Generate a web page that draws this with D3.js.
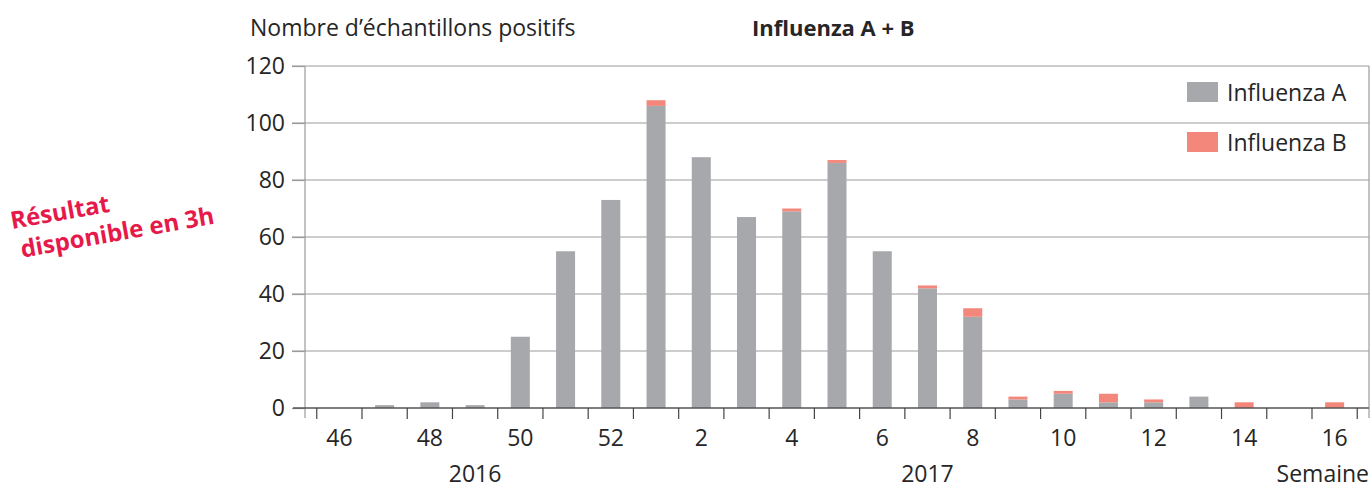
<!DOCTYPE html>
<html>
<head>
<meta charset="utf-8">
<script src="https://cdn.jsdelivr.net/npm/d3@7"></script>
<style>
  body { margin: 0; background: #fff; }
  text { font-family: "Open Sans", "Noto Sans", sans-serif; fill: #262626; }
</style>
</head>
<body>
<div id="chart"></div>
<script>
// semaines (2016: 46-52, 2017: 1-16)
const weeks = ["46", "47", "48", "49", "50", "51", "52", "1", "2", "3", "4", "5",
  "6", "7", "8", "9", "10", "11", "12", "13", "14", "15", "16"];
const influenzaA = [0, 1, 2, 1, 25, 55, 73, 106, 88, 67, 69, 86, 55, 42, 32, 3, 5, 2, 2, 4, 0, 0, 0];
const influenzaB = [0, 0, 0, 0, 0, 0, 0, 2, 0, 0, 1, 1, 0, 1, 3, 1, 1, 3, 1, 0, 2, 0, 2];
const yTicks = [0, 20, 40, 60, 80, 100, 120];
const weekLabels = ["46", "48", "50", "52", "2", "4", "6", "8", "10", "12", "14", "16"];
const yearLabels = ["2016", "2017"];
const yearWeeks = ["49", "7"];
const seriesNames = ["Influenza A", "Influenza B"];

const width = 1371, height = 489;
const margin = { top: 66, right: 2, bottom: 81, left: 305 };
const innerW = width - margin.left - margin.right;
const innerH = height - margin.top - margin.bottom;
const colors = ["#a7a8ab", "#f4877b"];
const gridColor = "#9b9b9b";

const data = weeks.map((w, i) => ({ week: w, A: influenzaA[i], B: influenzaB[i] }));
const stacked = d3.stack().keys(["A", "B"])(data);

const svg = d3.select("#chart").append("svg")
  .attr("width", width)
  .attr("height", height);

const g = svg.append("g")
  .attr("transform", `translate(${margin.left}, ${margin.top})`);

const x = d3.scaleBand()
  .domain(weeks)
  .range([0, innerW])
  .paddingInner(0)
  .paddingOuter(0.26);

const y = d3.scaleLinear()
  .domain([0, 120])
  .range([innerH, 0]);

// grille horizontale
g.append("g")
  .selectAll("line")
  .data(yTicks.filter(d => d > 0))
  .join("line")
  .attr("x1", -13)
  .attr("x2", innerW)
  .attr("y1", d => y(d))
  .attr("y2", d => y(d))
  .attr("stroke", gridColor)
  .attr("stroke-width", 1.2);

// axe Y
const yAxis = d3.axisLeft(y)
  .tickValues(yTicks)
  .tickSize(13)
  .tickPadding(7);
const gy = g.append("g").call(yAxis);
gy.select(".domain").remove();
gy.selectAll(".tick line").attr("stroke", gridColor).attr("stroke-width", 1.2);
gy.selectAll(".tick text")
  .attr("font-size", 23)
  .attr("font-family", "Open Sans")
  .attr("fill", "#262626");

// barres empilées
g.append("g")
  .selectAll("g")
  .data(stacked)
  .join("g")
  .attr("fill", (d, i) => colors[i])
  .selectAll("rect")
  .data(d => d)
  .join("rect")
  .attr("x", d => x(d.data.week) + x.bandwidth() * 0.29)
  .attr("width", x.bandwidth() * 0.42)
  .attr("y", d => y(d[1]))
  .attr("height", d => y(d[0]) - y(d[1]));

// bords verticaux
[0, innerW].forEach(px => {
  g.append("line")
    .attr("x1", px).attr("x2", px)
    .attr("y1", 0).attr("y2", innerH + 10)
    .attr("stroke", gridColor)
    .attr("stroke-width", 1.2);
});

// axe X: ligne de base + graduations entre les semaines
g.append("line")
  .attr("x1", -12).attr("x2", innerW)
  .attr("y1", innerH).attr("y2", innerH)
  .attr("stroke", "#555")
  .attr("stroke-width", 1.4);

const boundaries = weeks.map(w => x(w)).concat([x(weeks[weeks.length - 1]) + x.step()]);
g.append("g")
  .selectAll("line")
  .data(boundaries)
  .join("line")
  .attr("x1", d => d).attr("x2", d => d)
  .attr("y1", innerH).attr("y2", innerH + 11)
  .attr("stroke", "#444")
  .attr("stroke-width", 1.2);

const xAxis = d3.axisBottom(x)
  .tickValues(weekLabels)
  .tickSize(0)
  .tickPadding(22);
const gx = g.append("g")
  .attr("transform", `translate(0, ${innerH})`)
  .call(xAxis);
gx.select(".domain").remove();
gx.selectAll(".tick text")
  .attr("font-size", 23)
  .attr("font-family", "Open Sans")
  .attr("fill", "#262626");

// années
g.append("g")
  .selectAll("text")
  .data(yearLabels)
  .join("text")
  .attr("x", (d, i) => x(yearWeeks[i]) + x.bandwidth() / 2)
  .attr("y", innerH + 74)
  .attr("text-anchor", "middle")
  .attr("font-size", 23)
  .text(d => d);

svg.append("text")
  .attr("x", 1369)
  .attr("y", height - 7)
  .attr("text-anchor", "end")
  .attr("font-size", 23)
  .text("Semaine");

// titres
svg.append("text")
  .attr("x", 250)
  .attr("y", 36)
  .attr("font-size", 23)
  .text("Nombre d’échantillons positifs");

svg.append("text")
  .attr("x", 752)
  .attr("y", 36)
  .attr("font-size", 22)
  .attr("font-weight", "bold")
  .text("Influenza A + B");

// légende
const legend = svg.append("g")
  .selectAll("g")
  .data(seriesNames)
  .join("g")
  .attr("transform", (d, i) => `translate(1187, ${82 + i * 50})`);
legend.append("rect")
  .attr("width", 31)
  .attr("height", 20)
  .attr("fill", (d, i) => colors[i]);
legend.append("text")
  .attr("x", 40)
  .attr("y", 19)
  .attr("font-size", 23)
  .text(d => d);

// annotation
const note = svg.append("text")
  .attr("transform", "translate(12, 229) rotate(-10)")
  .attr("font-size", 24)
  .attr("font-weight", "bold")
  .style("fill", "#e6194b");
note.append("tspan").attr("x", 0).attr("dy", 0).text("Résultat");
note.append("tspan").attr("x", 5).attr("dy", 30).text("disponible en 3h");
</script>
</body>
</html>
